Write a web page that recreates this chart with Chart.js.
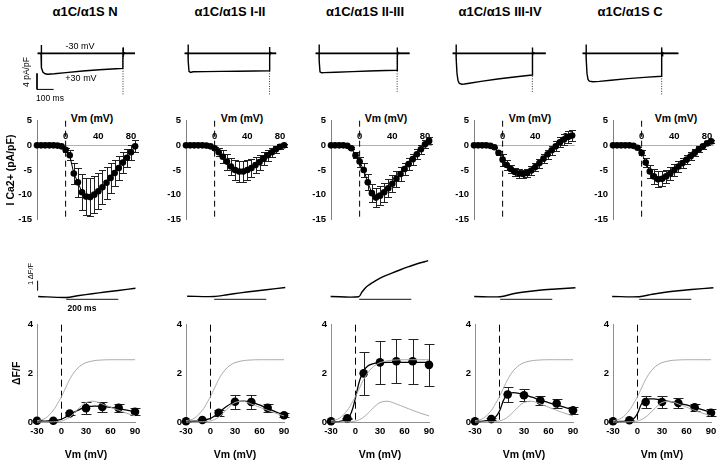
<!DOCTYPE html>
<html>
<head>
<meta charset="utf-8">
<script src="https://cdn.jsdelivr.net/npm/chart.js@4.4.0/dist/chart.umd.min.js"></script>
<style>
  body { margin: 0; background: #fff; }
  #fig { position: relative; width: 720px; height: 465px; overflow: hidden; font-family: "Liberation Sans", Arial, sans-serif; }
  #fig canvas { position: absolute; }
  .lbl { position: absolute; white-space: nowrap; color: #000; line-height: 1; transform: translate(-50%, -50%); }
  .rot { transform: translate(-50%, -50%) rotate(-90deg); }
</style>
</head>
<body>
<div id="fig"></div>
<script>
// ----- Datos -----
const panelNames = ["α1C/α1S N", "α1C/α1S I-II", "α1C/α1S II-III", "α1C/α1S III-IV", "α1C/α1S C"];

// corrientes a +30 mV (tiempo ms, pA/pF)
const curTime = [
  [-20, 0, 0.5, 2, 5, 12, 25, 40, 80, 150, 250, 350, 450, 491, 492, 494, 498, 505, 564],
  [-20, 0, 0.5, 2, 6, 15, 30, 100, 200, 300, 400, 488, 489, 491, 495, 502, 529],
  [-20, 0, 0.5, 2, 6, 15, 30, 100, 200, 300, 400, 468, 469, 471, 475, 482, 543],
  [-20, 0, 0.5, 2, 6, 12, 20, 35, 50, 80, 150, 250, 350, 457, 458, 460, 464, 471, 538],
  [-20, 0, 0.5, 2, 6, 12, 20, 40, 80, 150, 250, 350, 453, 454, 456, 460, 467, 554]
];
const curValue = [
  [0, 0, 2.1, -1, -3.6, -4.7, -5.1, -5.2, -5.1, -4.8, -4.4, -4.1, -3.85, -3.75, 1.5, -0.6, 0.2, 0, 0],
  [0, 0, 2.2, -2, -4.5, -4.75, -4.6, -4.55, -4.5, -4.45, -4.4, -4.35, 1.6, -0.6, 0.2, 0, 0],
  [0, 0, 2.2, -2, -4.6, -4.85, -4.8, -4.7, -4.55, -4.4, -4.28, -4.2, 1.5, -0.6, 0.2, 0, 0],
  [0, 0, 2.2, -1.5, -5.0, -6.8, -7.5, -7.7, -7.65, -7.45, -7.0, -6.4, -5.9, -5.4, 1.5, -0.6, 0.2, 0, 0],
  [0, 0, 2.2, -1.5, -5.0, -6.5, -6.95, -7.1, -7.0, -6.7, -6.3, -6.0, -5.7, 1.5, -0.6, 0.2, 0, 0]
];
const tailTime = [491, 488, 468, 457, 453];
const tailPeak = [-10.4, -10.25, -9.6, -9.9, -10.25];

// relaciones I-V (mV, pA/pF)
const ivVoltage = [-35, -30, -25, -20, -15, -10, -5, 0, 5, 10, 15, 20, 25, 30, 35, 40, 45, 50, 55, 60, 65, 70, 75, 80, 85];
const ivCurrent = [
  [0, 0, 0, 0, 0, -0.05, -0.2, -0.9, -2.0, -5.7, -7.5, -9.5, -10.4, -10.5, -10.0, -9.3, -8.5, -7.6, -6.6, -5.6, -4.6, -3.5, -2.5, -1.4, -0.2],
  [0, 0, 0, 0, 0, -0.05, -0.2, -0.6, -1.4, -2.3, -3.3, -4.3, -5.0, -5.3, -5.3, -5.0, -4.6, -4.0, -3.4, -2.7, -2.0, -1.4, -0.8, -0.3, 0.0],
  [0, 0, 0, 0, -0.1, -0.6, -2.0, -3.3, -5.0, -7.5, -9.7, -10.6, -10.2, -9.5, -8.7, -7.8, -6.8, -5.8, -4.8, -3.8, -2.8, -1.8, -0.8, 0.2, 0.9],
  [0, 0, 0, 0, -0.1, -0.4, -1.5, -2.9, -4.0, -4.8, -5.4, -5.7, -5.8, -5.6, -5.1, -4.4, -3.6, -2.7, -1.8, -1.0, -0.2, 0.6, 1.2, 1.7, 2.0],
  [0, 0, 0, 0, 0, -0.1, -0.5, -1.5, -3.5, -5.3, -6.3, -6.9, -6.8, -6.3, -5.7, -5.0, -4.3, -3.6, -2.9, -2.2, -1.5, -0.8, -0.2, 0.4, 0.8]
];
const ivError = [
  [0, 0, 0, 0, 0, 0, 0.1, 0.4, 1.0, 2.2, 3.0, 3.6, 3.8, 3.9, 3.8, 3.6, 3.4, 3.2, 3.0, 2.7, 2.4, 2.1, 1.8, 1.5, 1.2],
  [0, 0, 0, 0, 0, 0, 0.1, 0.3, 0.8, 1.3, 1.6, 1.8, 2.0, 2.1, 2.1, 2.0, 1.9, 1.7, 1.5, 1.3, 1.1, 0.9, 0.7, 0.5, 0.3],
  [0, 0, 0, 0, 0, 0.2, 0.6, 1.0, 1.4, 1.6, 1.8, 2.0, 2.0, 1.9, 1.8, 1.7, 1.6, 1.4, 1.3, 1.2, 1.1, 1.0, 0.9, 0.8, 0.7],
  [0, 0, 0, 0, 0, 0.1, 0.4, 1.2, 1.0, 0.9, 0.9, 0.9, 0.9, 0.9, 0.9, 0.9, 0.9, 0.9, 0.9, 0.9, 1.0, 1.0, 1.1, 1.2, 1.2],
  [0, 0, 0, 0, 0, 0, 0.2, 0.5, 0.9, 1.3, 1.5, 1.6, 1.5, 1.4, 1.3, 1.2, 1.1, 1.0, 0.9, 0.8, 0.7, 0.6, 0.5, 0.4, 0.3]
];
const ivTicks = [0, 40, 80];

// transitorios de fluorescencia (ms, ΔF/F)
const fluoTime = [
  [-108, 0, 50, 100, 150, 200, 266],
  [-104, 0, 50, 100, 150, 200, 273],
  [-110, -2, 10, 28, 60, 92, 125, 156, 190, 220, 265],
  [-100, 0, 50, 100, 150, 200, 289],
  [-104, 0, 50, 100, 150, 200, 285]
];
const fluoValue = [
  [0.02, -0.08, 0.12, 0.3, 0.47, 0.62, 0.84],
  [0.05, 0.02, 0.2, 0.38, 0.55, 0.7, 0.92],
  [0.02, 0, 0.45, 1.0, 1.55, 2.0, 2.35, 2.67, 3.0, 3.27, 3.6],
  [0.02, 0, 0.3, 0.5, 0.65, 0.75, 0.9],
  [0.02, 0, 0.25, 0.45, 0.6, 0.72, 0.9]
];

// ΔF/F-V (mV, ΔF/F)
const fvVoltage = [-30, -10, 10, 30, 50, 70, 90];
const fvMean = [
  [0.05, 0.05, 0.35, 0.57, 0.62, 0.58, 0.42],
  [0.03, 0.08, 0.38, 0.83, 0.82, 0.58, 0.28],
  [0.03, 0.15, 2.0, 2.45, 2.5, 2.5, 2.35],
  [0.03, 0.12, 1.13, 1.1, 0.88, 0.76, 0.48],
  [0.03, 0.07, 0.82, 0.82, 0.78, 0.6, 0.38]
];
const fvError = [
  [0.02, 0.02, 0.07, 0.25, 0.2, 0.18, 0.15],
  [0.02, 0.03, 0.12, 0.3, 0.3, 0.18, 0.07],
  [0.02, 0.03, 0.87, 0.9, 0.9, 0.92, 0.87],
  [0.02, 0.05, 0.32, 0.25, 0.2, 0.2, 0.15],
  [0.02, 0.03, 0.25, 0.25, 0.2, 0.15, 0.15]
];
const fitVoltage = [-30, -20, -10, -5, 0, 5, 10, 15, 20, 25, 30, 40, 50, 60, 70, 80, 90];
const fitCurve = [
  [0.03, 0.04, 0.05, 0.08, 0.12, 0.2, 0.3, 0.4, 0.48, 0.56, 0.61, 0.65, 0.64, 0.6, 0.55, 0.49, 0.42],
  [0.02, 0.03, 0.06, 0.1, 0.15, 0.25, 0.38, 0.52, 0.65, 0.75, 0.82, 0.86, 0.82, 0.7, 0.56, 0.42, 0.28],
  [0.0, 0.02, 0.12, 0.4, 1.0, 1.7, 2.1, 2.3, 2.38, 2.42, 2.44, 2.45, 2.45, 2.45, 2.45, 2.45, 2.45],
  [0.02, 0.04, 0.1, 0.2, 0.45, 0.9, 1.15, 1.2, 1.2, 1.17, 1.13, 1.02, 0.9, 0.8, 0.7, 0.6, 0.5],
  [0.01, 0.02, 0.05, 0.12, 0.35, 0.75, 0.9, 0.95, 0.95, 0.93, 0.9, 0.84, 0.78, 0.7, 0.6, 0.5, 0.4]
];
// curvas de referencia en gris (iguales en todos los paneles)
const refSigmoid = [0.05, 0.15, 0.48, 0.75, 1.05, 1.4, 1.75, 2.02, 2.22, 2.35, 2.44, 2.52, 2.55, 2.56, 2.56, 2.56, 2.56];
const refBell = [0, 0, 0.01, 0.02, 0.04, 0.1, 0.2, 0.35, 0.52, 0.68, 0.8, 0.85, 0.74, 0.61, 0.48, 0.36, 0.25];

// ----- Posiciones de los paneles (px) -----
const titleX = [85, 230, 365, 500, 630];
const traceOnsetX = [41, 188, 319, 456, 586];
const ivAxisX = [37, 186, 331, 474, 613];
const ivTitleX = [92, 242, 386, 530, 676];
const pulseX = [66, 214, 359, 500, 639];
const fvAxisX = [37, 186, 331, 475, 613];

Chart.defaults.font.family = '"Liberation Sans", Arial, sans-serif';
Chart.defaults.color = '#000';

const fig = document.getElementById("fig");
const pts = (xs, ys) => xs.map((x, i) => ({ x, y: ys[i] }));

function addCanvas(left, top, width, height) {
  const c = document.createElement("canvas");
  c.width = width; c.height = height;
  c.style.left = left + "px"; c.style.top = top + "px";
  c.style.width = width + "px"; c.style.height = height + "px";
  fig.appendChild(c);
  return c;
}

function addLabel(text, x, y, css, rotated) {
  const d = document.createElement("div");
  d.className = "lbl" + (rotated ? " rot" : "");
  d.textContent = text;
  d.style.left = x + "px"; d.style.top = y + "px";
  Object.assign(d.style, css || {});
  fig.appendChild(d);
}

function baseOptions() {
  return {
    responsive: false, animation: false, events: [],
    plugins: { legend: { display: false }, tooltip: { enabled: false } }
  };
}

// barras de error
const errorBars = {
  id: "errorBars",
  beforeDatasetsDraw(chart) {
    const ctx = chart.ctx;
    const ys = chart.scales.y;
    chart.data.datasets.forEach((ds, i) => {
      if (!ds.errors) return;
      const meta = chart.getDatasetMeta(i);
      ctx.save();
      ctx.strokeStyle = "#222";
      ctx.lineWidth = 1;
      meta.data.forEach((p, j) => {
        const e = ds.errors[j];
        if (!e) return;
        const v = ds.data[j].y;
        const x = Math.round(p.x) + 0.5;
        const t = Math.round(ys.getPixelForValue(v + e)) + 0.5;
        const b = Math.round(ys.getPixelForValue(v - e)) + 0.5;
        const w = ds.capWidth / 2;
        ctx.beginPath();
        ctx.moveTo(x, t); ctx.lineTo(x, b);
        ctx.moveTo(x - w, t); ctx.lineTo(x + w, t);
        ctx.moveTo(x - w, b); ctx.lineTo(x + w, b);
        ctx.stroke();
      });
      ctx.restore();
    });
  }
};

// ----- Fila 1: corrientes -----
function currentTrace(col) {
  const cv = addCanvas(traceOnsetX[col] - 5, 41, 100, 60);
  const t = curTime[col];
  const datasets = [
    { data: [{ x: -20, y: 0 }, { x: t[t.length - 1], y: 0 }], borderColor: "#000", borderWidth: 1.6 },
    { data: pts(t, curValue[col]), borderColor: "#000", borderWidth: 1.4 },
    { data: [{ x: tailTime[col] + 1, y: 0 }, { x: tailTime[col] + 1, y: tailPeak[col] }], borderColor: "#333", borderWidth: 1, borderDash: [1, 1.5] }
  ];
  if (col === 0) {
    // barras de escala 4 pA/pF y 100 ms
    datasets.push({ data: [{ x: -24, y: -5 }, { x: -24, y: -9 }, { x: 76, y: -9 }], borderColor: "#000", borderWidth: 1 });
  }
  datasets.forEach(d => { d.pointRadius = 0; d.showLine = true; d.clip = false; });
  new Chart(cv, {
    type: "scatter",
    data: { datasets },
    options: Object.assign(baseOptions(), {
      scales: {
        x: { type: "linear", min: -30, max: 570, display: false },
        y: { min: -11.9, max: 3.1, display: false }
      }
    })
  });
}

// ----- Fila 2: I-V -----
function ivChart(col) {
  const first = col === 0;
  const yw = first ? ivAxisX[0] : 30;
  const cv = addCanvas(ivAxisX[col] - yw, 110, yw + 110, 130);
  new Chart(cv, {
    type: "scatter",
    data: {
      datasets: [
        { data: [{ x: 0, y: 5 }, { x: 0, y: -15 }], showLine: true, borderColor: "#000", borderWidth: 1, borderDash: [6, 4], pointRadius: 0, clip: false },
        { data: pts(ivVoltage, ivCurrent[col]), errors: ivError[col], capWidth: 7, showLine: true,
          borderColor: "#000", borderWidth: 1, pointRadius: 3.3, pointBackgroundColor: "#000", pointBorderWidth: 0, clip: false }
      ]
    },
    options: Object.assign(baseOptions(), {
      layout: { padding: { top: 10.7, bottom: 20.7, left: 0, right: 10 } },
      scales: {
        x: {
          type: "linear", min: -35, max: 87.3, position: { y: 0 },
          grid: { display: false, drawTicks: false },
          border: { color: "#b0b0b0" },
          afterBuildTicks: s => { s.ticks = ivTicks.map(v => ({ value: v })); },
          ticks: { padding: -15, font: { size: 9.5, weight: "bold" } }
        },
        y: {
          min: -15, max: 5,
          grid: { display: false, drawTicks: false },
          border: { color: "#808080" },
          ticks: { stepSize: 5, padding: 5, font: { size: 9.5, weight: "bold" } },
          afterFit: s => { s.width = yw; },
          title: { display: first, text: "I Ca2+ (pA/pF)", font: { size: 10.5, weight: "bold" }, padding: { top: 5, bottom: 0 } }
        }
      }
    }),
    plugins: [errorBars]
  });
}

// ----- Fila 3: fluorescencia -----
function fluoTrace(col) {
  const cv = addCanvas(Math.round(pulseX[col] - 31.2), 257, 108, 46);
  const datasets = [
    { data: pts(fluoTime[col], fluoValue[col]), borderColor: "#000", borderWidth: 1.4, tension: 0.3 },
    { data: [{ x: 0, y: -0.26 }, { x: 200, y: -0.26 }], borderColor: "#111", borderWidth: 1 }
  ];
  if (col === 0) {
    datasets.push({ data: [{ x: -110, y: 0.6 }, { x: -110, y: 1.6 }], borderColor: "#000", borderWidth: 1 });
  }
  datasets.forEach(d => { d.pointRadius = 0; d.showLine = true; d.clip = false; });
  new Chart(cv, {
    type: "scatter",
    data: { datasets },
    options: Object.assign(baseOptions(), {
      scales: {
        x: { type: "linear", min: -120, max: 295, display: false },
        y: { min: -0.63, max: 3.97, display: false }
      }
    })
  });
}

// ----- Fila 4: ΔF/F-V -----
function fvChart(col) {
  const first = col === 0;
  const yw = first ? fvAxisX[0] : 30;
  const cv = addCanvas(fvAxisX[col] - yw, 315, yw + 108, 147);
  new Chart(cv, {
    type: "scatter",
    data: {
      datasets: [
        { data: pts(fitVoltage, refSigmoid), borderColor: "#a8a8a8", borderWidth: 1, tension: 0.4 },
        { data: pts(fitVoltage, refBell), borderColor: "#a8a8a8", borderWidth: 1, tension: 0.4 },
        { data: [{ x: 0, y: 4 }, { x: 0, y: 0 }], borderColor: "#000", borderWidth: 1, borderDash: [7, 4] },
        { data: pts(fitVoltage, fitCurve[col]), borderColor: "#000", borderWidth: 1.3, tension: 0.4 },
        { data: pts(fvVoltage, fvMean[col]), errors: fvError[col], capWidth: 10, showLine: false,
          pointRadius: 4.3, pointBackgroundColor: "#000", pointBorderWidth: 0 }
      ].map(d => Object.assign({ showLine: true, pointRadius: 0, clip: false }, d))
    },
    options: Object.assign(baseOptions(), {
      layout: { padding: { top: 8.3, bottom: 0, left: 0, right: 10 } },
      scales: {
        x: {
          type: "linear", min: -30, max: 90,
          grid: { display: false, drawTicks: false },
          border: { color: "#909090" },
          ticks: { stepSize: 30, padding: 4, font: { size: 9.5, weight: "bold" } },
          afterFit: s => { s.height = 40; },
          title: { display: true, text: "Vm (mV)", font: { size: 10.5, weight: "bold" }, padding: { top: 0, bottom: 1 } }
        },
        y: {
          min: 0, max: 4,
          grid: { display: false, drawTicks: false },
          border: { color: "#909090" },
          ticks: { stepSize: 2, padding: 4, font: { size: 9.5, weight: "bold" } },
          afterFit: s => { s.width = yw; },
          title: { display: first, text: "ΔF/F", font: { size: 10.5, weight: "bold" }, padding: { top: 11, bottom: 0 } }
        }
      }
    }),
    plugins: [errorBars]
  });
}

for (let c = 0; c < 5; c++) {
  addLabel(panelNames[c], titleX[c], 11, { fontSize: "13px", fontWeight: "bold" });
  addLabel("Vm (mV)", ivTitleX[c], 118, { fontSize: "10.5px", fontWeight: "bold" });
  currentTrace(c);
  ivChart(c);
  fluoTrace(c);
  fvChart(c);
}

// rótulos de escala del primer panel
addLabel("-30 mV", 80, 46, { fontSize: "9px" });
addLabel("+30 mV", 81, 78, { fontSize: "9px" });
addLabel("4 pA/pF", 26, 72, { fontSize: "8.5px" }, true);
addLabel("100 ms", 50, 98, { fontSize: "8.5px" });
addLabel("200 ms", 82, 308, { fontSize: "8.5px", fontWeight: "bold" });
addLabel("1 ΔF/F", 31, 274, { fontSize: "7.5px" }, true);
</script>
</body>
</html>
